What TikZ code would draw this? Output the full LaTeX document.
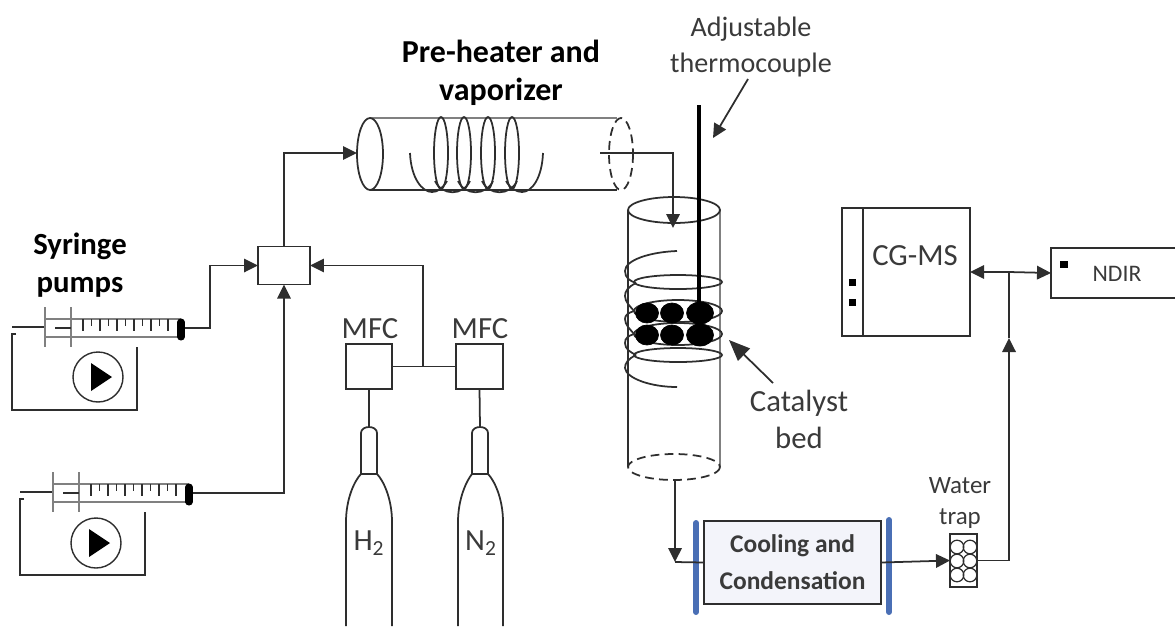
\documentclass[tikz,border=0pt]{standalone}
\usepackage{fontspec}
\setmainfont{Carlito}
\usetikzlibrary{arrows.meta}
\definecolor{diagramLine}{HTML}{2E2E2E}
\definecolor{diagramText}{HTML}{3A3A3A}
\definecolor{diagramBar}{HTML}{4A6FB5}
\definecolor{diagramCoolBg}{HTML}{F3F4FA}

\begin{document}
\begin{tikzpicture}[
    x=0.02cm,y=-0.02cm,
    every node/.style={align=center,text=diagramText,inner sep=0pt,outer sep=0pt},
    line/.style={draw=diagramLine,line width=1pt},
    flow/.style={-{Triangle[length=2.8mm,width=2.7mm]},draw=diagramLine,line width=1pt},
    box/.style={draw=diagramLine,line width=1.1pt,fill=white},
    label/.style={font=\fontsize{17.5}{21}\selectfont},
    smalllabel/.style={font=\fontsize{14.2}{17.5}\selectfont},
    title/.style={font=\fontsize{17.5}{21.5}\selectfont\bfseries,text=black},
    dashedline/.style={draw=diagramLine,line width=1pt,dash pattern=on 5pt off 3pt},
    pellet/.style={fill=black,draw=black}
]
\useasboundingbox (0,0) rectangle (1175,626);

% syringe pumps
\foreach \sx/\sy/\cx/\cy/\sname in {0/0/98/377/a,8/165/96/543/b}{
\begin{scope}[shift={(\sx,\sy)}]
\draw[line] (12,327) -- (45,327);
\draw[line,draw=gray] (45,319) rectangle (180,337);
\draw[line,line width=1.3pt,draw=gray] (45,307) -- (45,347);
\draw[line,line width=1.3pt,draw=gray] (71,307) -- (71,347);
\draw[line] (55,328) -- (71,328);
\foreach \k in {0,2,...,10} \draw[line,line width=0.7pt] ({83+8.5*\k},319) -- ({83+8.5*\k},331);
\foreach \k in {1,3,...,9} \draw[line,line width=0.7pt] ({83+8.5*\k},319) -- ({83+8.5*\k},326);
\draw[black,line width=4pt,line cap=round] (181,322) -- (181,337);
\coordinate (syringe\sname) at (185,328);
\draw[line] (16,334) -- (12,334) -- (12,410) -- (137,410) -- (137,347);
\end{scope}
\node[circle,draw=diagramLine,line width=0.8pt,minimum size=1cm] (pump\sname) at (\cx,\cy) {};
\fill[black] (\cx-7,\cy-14) -- (\cx+14,\cy) -- (\cx-7,\cy+14) -- cycle;
}
\node[title] (syringetitle) at (80,265) {Syringe\\pumps};

% mixing box and gas feed
\node[box,minimum width=1.04cm,minimum height=0.76cm] (mixer) at (284,265.5) {};
\node[box,minimum width=0.92cm,minimum height=0.9cm] (mfcH) at (369,366.5) {};
\node[box,minimum width=0.94cm,minimum height=0.9cm] (mfcN) at (479.5,366.5) {};
\node[label,above=0pt] (mfcHlabel) at (370,339) {MFC};
\node[label,above=0pt] (mfcNlabel) at (480,339) {MFC};
\coordinate (gasjoin) at (423,366.5);
\coordinate (neckH) at (369,427);
\coordinate (neckN) at (480,427);
\draw[line] (mfcH) -- (mfcN);
\draw[flow] (gasjoin) |- (mixer.east);
\draw[line] (mfcH.south) -- (neckH);
\draw[line] (mfcN.south) -- (neckN);
\draw[flow] (syringea) -- (210,328) |- (mixer.west);
\draw[flow] (syringeb) -| (mixer.south);

% gas bottles
\draw[line,line join=round] (361,474) -- (361,433) .. controls (361,425) and (377,425) .. (377,433) -- (377,474);
\draw[line] (361,474) -- (377,474);
\draw[line] (346,626) -- (346,522) .. controls (346,498) and (355,480) .. (361,474);
\draw[line] (392,626) -- (392,522) .. controls (392,498) and (383,480) .. (377,474);
\draw[line,line join=round] (472,474) -- (472,433) .. controls (472,425) and (488,425) .. (488,433) -- (488,474);
\draw[line] (472,474) -- (488,474);
\draw[line] (458,626) -- (458,522) .. controls (458,498) and (467,480) .. (472,474);
\draw[line] (503,626) -- (503,522) .. controls (503,498) and (494,480) .. (488,474);
\node[label] (h2label) at (369,543) {H\textsubscript{2}};
\node[label] (n2label) at (481,543) {N\textsubscript{2}};

% pre-heater
\node[title,font=\fontsize{18.2}{21.5}\selectfont\bfseries] (preheatertitle) at (501,73) {Pre-heater and\\vaporizer};
\draw[line,draw=gray,line width=1.2pt] (370,118) -- (617,118);
\draw[line] (370,190) -- (617,190);
\draw[line] (370,154) ellipse [x radius=13,y radius=36];
\draw[dashedline] (621,154) ellipse [x radius=12,y radius=36];
\foreach \hx in {441,464,488,512} \draw[line] (\hx,153) ellipse [x radius=7,y radius=36];
\draw[line] (410,153) .. controls (411,178) and (422,192) .. (432,192) .. controls (438,192) and (443,188) .. (447,181);
\foreach \hx in {441,464,488} \draw[line] (\hx-6,181) .. controls (\hx+1,196) and (\hx+22,196) .. (\hx+29,181);
\draw[line] (506,181) .. controls (510,188) and (516,192) .. (522,192) .. controls (532,192) and (542,178) .. (543,153);
\coordinate (preIn) at (357,153);
\coordinate (preOut) at (600,153);
\coordinate (reactorIn) at (673,228);
\draw[flow] (mixer.north) |- (preIn);
\draw[flow] (preOut) -| (reactorIn);

% reactor
\draw[line] (628,210) -- (628,467);
\draw[line,draw=gray,line width=1.2pt] (720,210) -- (720,467);
\draw[line] (674,210) ellipse [x radius=46,y radius=13];
\draw[dashedline] (674,467) ellipse [x radius=46,y radius=13];
\draw[line] (678,282) ellipse [x radius=44,y radius=7];
\draw[line] (678,311) ellipse [x radius=44,y radius=11];
\draw[line] (678,334) ellipse [x radius=44,y radius=11];
\draw[line] (678,355) ellipse [x radius=44,y radius=7];
\draw[line] (677,251) .. controls (650,252) and (625,260) .. (625,271) .. controls (625,278) and (630,281) .. (636,283);
\draw[line] (636,283) .. controls (628,287) and (625,291) .. (625,296) .. controls (625,302) and (630,306) .. (634,311);
\draw[line] (634,311) .. controls (628,313) and (625,315) .. (625,319) .. controls (625,325) and (630,329) .. (634,334);
\draw[line] (634,334) .. controls (628,336) and (625,338) .. (625,343) .. controls (625,349) and (630,352) .. (636,355);
\draw[line] (636,355) .. controls (628,359) and (625,363) .. (625,368) .. controls (626,378) and (650,387) .. (677,387);
\fill[pellet] (647,313) ellipse [x radius=11.5,y radius=10];
\fill[pellet] (672,313) ellipse [x radius=11.5,y radius=10];
\fill[pellet] (700,313) ellipse [x radius=13.5,y radius=11];
\fill[pellet] (647,335) ellipse [x radius=11.5,y radius=10];
\fill[pellet] (672,335) ellipse [x radius=11.5,y radius=10];
\fill[pellet] (700,335) ellipse [x radius=13.5,y radius=11];
\draw[black,line width=1.9pt] (699,105) -- (699,305);

% labels of the reactor
\node[label,font=\fontsize{16}{21}\selectfont] (thermolabel) at (751,47) {Adjustable\\thermocouple};
\node[label] (catalystlabel) at (799,419) {Catalyst\\bed};
\coordinate (thermoFrom) at (748,79);
\coordinate (thermoTip) at (713,138);
\coordinate (catalystFrom) at (773,383);
\coordinate (catalystTip) at (729,340);
\draw[flow] (thermoFrom) -- (thermoTip);
\draw[flow,-{Triangle[length=4.2mm,width=3.4mm]}] (catalystFrom) -- (catalystTip);

% cooling
\node[box,fill=diagramCoolBg,minimum width=3.54cm,minimum height=1.66cm,font=\fontsize{14.5}{21}\selectfont\bfseries] (cooling) at (792.5,562.5) {Cooling and\\Condensation};
\draw[diagramBar,line width=3.4pt,line cap=round] (696,523) -- (696,612);
\draw[diagramBar,line width=3.4pt,line cap=round] (889,520) -- (889,612);
\coordinate (reactorOut) at (675,480);
\coordinate (coolIn) at (675,562);
\draw[flow] (reactorOut) -- (coolIn);
\draw[line] (coolIn) -- (cooling.west);

% water trap
\node[box,minimum width=0.54cm,minimum height=1.06cm] (trap) at (963.5,560.5) {};
\foreach \tx in {957,970} \foreach \ty in {547,561,575} \draw[line,line width=0.7pt] (\tx,\ty) circle (6.8);
\node[smalllabel] (traplabel) at (960,503) {Water\\trap};
\draw[flow] (cooling.east) -- (trap.west);

% analysers
\node[box,minimum width=2.56cm,minimum height=2.56cm] (gcms) at (906,272) {};
\node[label] (gcmslabel) at (915,256) {CG-MS};
\draw[line] (863,208) -- (863,336);
\fill[black] (848.5,278.5) rectangle (855.5,285.5);
\fill[black] (848.5,298.5) rectangle (855.5,305.5);
\node[box,minimum width=2.58cm,minimum height=1cm] (ndir) at (1115.5,273) {};
\node[smalllabel,font=\fontsize{13.5}{16}\selectfont] (ndirlabel) at (1117,274) {NDIR};
\fill[black] (1059.5,260.5) rectangle (1067.5,267.5);
\coordinate (gasjunction) at (1009,272);
\coordinate (gasarrow) at (1009,338);
\draw[flow] (gasjunction) -- (gcms.east);
\draw[flow] (gasjunction) -- (ndir.west);
\draw[flow] (trap.east) -| (gasarrow);
\draw[line] (gasarrow) -- (gasjunction);
\end{tikzpicture}
\end{document}
